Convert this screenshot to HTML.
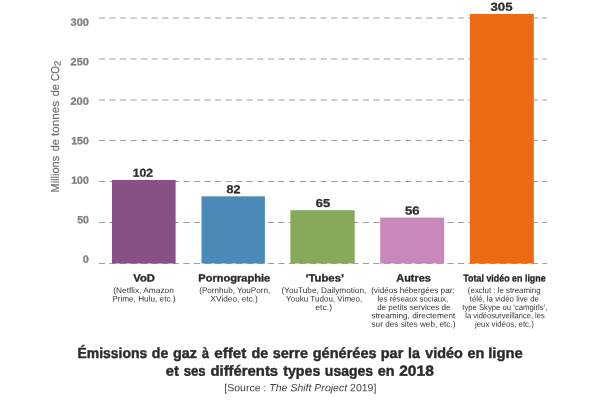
<!DOCTYPE html>
<html lang="fr"><head><meta charset="utf-8"><title>Émissions de gaz à effet de serre générées par la vidéo en ligne</title>
<style>html,body{margin:0;padding:0;background:#fff;overflow:hidden}svg{display:block}text{font-family:"Liberation Sans", sans-serif;text-rendering:geometricPrecision}</style></head><body>
<svg width="600" height="400" viewBox="0 0 600 400">
<rect width="600" height="400" fill="#fff"/>
<g stroke="#9e9e9e" stroke-width="1" stroke-dasharray="6.1 4.46">
<line x1="98.9" x2="547" y1="18.00" y2="18.00"/>
<line x1="98.9" x2="547" y1="59.00" y2="59.00"/>
<line x1="98.9" x2="547" y1="100.00" y2="100.00"/>
<line x1="98.9" x2="547" y1="140.55" y2="140.55"/>
<line x1="98.9" x2="547" y1="181.50" y2="181.50"/>
<line x1="98.9" x2="547" y1="222.50" y2="222.50"/>
<line x1="98.9" x2="547" y1="263.5" y2="263.5"/>
</g>
<rect x="112.00" y="179.96" width="63.60" height="83.54" fill="#885083"/>
<rect x="201.50" y="196.32" width="63.40" height="67.18" fill="#4b8ab7"/>
<rect x="290.40" y="210.23" width="64.30" height="53.27" fill="#86aa5a"/>
<rect x="380.20" y="217.59" width="64.00" height="45.91" fill="#c988bc"/>
<rect x="469.90" y="13.91" width="63.90" height="249.59" fill="#ec6b12"/>
<g transform="translate(59.1,191.75) rotate(-90)">
<text transform="matrix(0.9545 0.0006 0 1 -0.72 0.00)" font-size="11.5" fill="#6c6c6c" stroke="#6c6c6c" stroke-width="0.15">Millions</text>
<text transform="matrix(0.9483 0.0006 0 1 40.51 0.00)" font-size="11.5" fill="#6c6c6c" stroke="#6c6c6c" stroke-width="0.15">de</text>
<text transform="matrix(1.0207 0.0006 0 1 55.67 0.00)" font-size="11.5" fill="#6c6c6c" stroke="#6c6c6c" stroke-width="0.15">tonnes</text>
<text transform="matrix(0.9523 0.0006 0 1 95.50 0.00)" font-size="11.5" fill="#6c6c6c" stroke="#6c6c6c" stroke-width="0.15">de</text>
<text transform="matrix(0.8542 0.0006 0 1 110.87 0.00)" font-size="11.5" fill="#6c6c6c" stroke="#6c6c6c" stroke-width="0.15">CO</text>
<text transform="matrix(1.2014 0.0006 0 1 125.41 1.30)" font-size="8.8" fill="#6c6c6c" stroke="#6c6c6c" stroke-width="0.15">2</text>
</g>
<text transform="matrix(1.0512 0.0006 0 1 82.73 262.75)" font-size="10.4" font-weight="bold" fill="#808080" stroke="#808080" stroke-width="0.3">0</text>
<text transform="matrix(1.0095 0.0006 0 1 77.26 223.23)" font-size="10.4" font-weight="bold" fill="#808080" stroke="#808080" stroke-width="0.3">50</text>
<text transform="matrix(1.0100 0.0006 0 1 71.26 183.71)" font-size="10.4" font-weight="bold" fill="#808080" stroke="#808080" stroke-width="0.3">100</text>
<text transform="matrix(1.0120 0.0006 0 1 71.23 144.19)" font-size="10.4" font-weight="bold" fill="#808080" stroke="#808080" stroke-width="0.3">150</text>
<text transform="matrix(1.0643 0.0006 0 1 70.43 104.67)" font-size="10.4" font-weight="bold" fill="#808080" stroke="#808080" stroke-width="0.3">200</text>
<text transform="matrix(1.0588 0.0006 0 1 70.52 65.15)" font-size="10.4" font-weight="bold" fill="#808080" stroke="#808080" stroke-width="0.3">250</text>
<text transform="matrix(1.0588 0.0006 0 1 70.52 25.63)" font-size="10.4" font-weight="bold" fill="#808080" stroke="#808080" stroke-width="0.3">300</text>
<text transform="matrix(1.0605 0.0006 0 1 132.67 176.81)" font-size="11.5" font-weight="bold" fill="#2e2e2e" stroke="#2e2e2e" stroke-width="0.3">102</text>
<text transform="matrix(1.0892 0.0006 0 1 226.47 193.17)" font-size="11.5" font-weight="bold" fill="#2e2e2e" stroke="#2e2e2e" stroke-width="0.3">82</text>
<text transform="matrix(1.1172 0.0006 0 1 315.74 207.08)" font-size="11.5" font-weight="bold" fill="#2e2e2e" stroke="#2e2e2e" stroke-width="0.3">65</text>
<text transform="matrix(1.1369 0.0006 0 1 404.99 214.44)" font-size="11.5" font-weight="bold" fill="#2e2e2e" stroke="#2e2e2e" stroke-width="0.3">56</text>
<text transform="matrix(1.1490 0.0006 0 1 490.49 10.76)" font-size="11.5" font-weight="bold" fill="#2e2e2e" stroke="#2e2e2e" stroke-width="0.3">305</text>
<text transform="matrix(1.0811 0.0006 0 1 133.31 281.50)" font-size="10.4" font-weight="bold" fill="#262626" stroke="#262626" stroke-width="0.3">VoD</text>
<text transform="matrix(1.0643 0.0006 0 1 198.32 281.50)" font-size="10.4" font-weight="bold" fill="#262626" stroke="#262626" stroke-width="0.3">Pornographie</text>
<text transform="matrix(1.0859 0.0006 0 1 305.40 281.50)" font-size="10.4" font-weight="bold" fill="#262626" stroke="#262626" stroke-width="0.3">‘Tubes’</text>
<text transform="matrix(1.0524 0.0006 0 1 396.29 281.50)" font-size="10.4" font-weight="bold" fill="#262626" stroke="#262626" stroke-width="0.3">Autres</text>
<text transform="matrix(0.9073 0.0006 0 1 463.34 281.50)" font-size="9.8" font-weight="bold" fill="#262626" stroke="#262626" stroke-width="0.3">Total vidéo en ligne</text>
<text transform="matrix(1.0244 0.0006 0 1 113.23 293.05)" font-size="8.15" fill="#363636">(Netflix, Amazon</text>
<text transform="matrix(1.0088 0.0006 0 1 112.20 301.47)" font-size="8.15" fill="#363636">Prime, Hulu, etc.)</text>
<text transform="matrix(1.0022 0.0006 0 1 199.17 293.05)" font-size="8.15" fill="#363636">(Pornhub, YouPorn,</text>
<text transform="matrix(1.0170 0.0006 0 1 210.54 301.47)" font-size="8.15" fill="#363636">XVideo, etc.)</text>
<text transform="matrix(1.0118 0.0006 0 1 281.43 293.05)" font-size="8.15" fill="#363636">(YouTube, Dailymotion,</text>
<text transform="matrix(0.9927 0.0006 0 1 286.09 301.47)" font-size="8.15" fill="#363636">Youku Tudou, Vimeo,</text>
<text transform="matrix(1.0643 0.0006 0 1 315.26 309.89)" font-size="8.15" fill="#363636">etc.)</text>
<text transform="matrix(1.0051 0.0006 0 1 371.14 293.05)" font-size="8.15" fill="#363636">(vidéos hébergées par:</text>
<text transform="matrix(0.9591 0.0006 0 1 377.53 301.47)" font-size="8.15" fill="#363636">les réseaux sociaux,</text>
<text transform="matrix(0.9916 0.0006 0 1 377.14 309.89)" font-size="8.15" fill="#363636">de petits services de</text>
<text transform="matrix(1.0148 0.0006 0 1 371.42 318.31)" font-size="8.15" fill="#363636">streaming, directement</text>
<text transform="matrix(1.0107 0.0006 0 1 371.51 326.73)" font-size="8.15" fill="#363636">sur des sites web, etc.)</text>
<text transform="matrix(0.9698 0.0006 0 1 467.87 293.05)" font-size="8.15" fill="#363636">(exclut : le streaming</text>
<text transform="matrix(0.9689 0.0006 0 1 469.78 301.47)" font-size="8.15" fill="#363636">télé, la vidéo live de</text>
<text transform="matrix(0.9490 0.0006 0 1 462.26 309.89)" font-size="8.15" fill="#363636">type Skype ou ‘camgirls’,</text>
<text transform="matrix(0.9252 0.0006 0 1 465.32 318.31)" font-size="8.15" fill="#363636">la vidéosurveillance, les</text>
<text transform="matrix(0.9635 0.0006 0 1 475.01 326.73)" font-size="8.15" fill="#363636">jeux vidéos, etc.)</text>
<text transform="matrix(0.9538 0.0006 0 1 77.56 357.90)" font-size="14.6" font-weight="bold" fill="#2b2b2b" stroke="#2b2b2b" stroke-width="0.4">Émissions</text>
<text transform="matrix(0.9668 0.0006 0 1 151.76 357.90)" font-size="14.6" font-weight="bold" fill="#2b2b2b" stroke="#2b2b2b" stroke-width="0.4">de</text>
<text transform="matrix(0.9850 0.0006 0 1 173.00 357.90)" font-size="14.6" font-weight="bold" fill="#2b2b2b" stroke="#2b2b2b" stroke-width="0.4">gaz</text>
<text transform="matrix(0.8592 0.0006 0 1 202.06 357.90)" font-size="14.6" font-weight="bold" fill="#2b2b2b" stroke="#2b2b2b" stroke-width="0.4">à</text>
<text transform="matrix(1.0448 0.0006 0 1 214.23 357.90)" font-size="14.6" font-weight="bold" fill="#2b2b2b" stroke="#2b2b2b" stroke-width="0.4">effet</text>
<text transform="matrix(0.9754 0.0006 0 1 251.44 357.90)" font-size="14.6" font-weight="bold" fill="#2b2b2b" stroke="#2b2b2b" stroke-width="0.4">de</text>
<text transform="matrix(0.9905 0.0006 0 1 272.63 357.90)" font-size="14.6" font-weight="bold" fill="#2b2b2b" stroke="#2b2b2b" stroke-width="0.4">serre</text>
<text transform="matrix(0.9957 0.0006 0 1 312.74 357.90)" font-size="14.6" font-weight="bold" fill="#2b2b2b" stroke="#2b2b2b" stroke-width="0.4">générées</text>
<text transform="matrix(0.9942 0.0006 0 1 380.74 357.90)" font-size="14.6" font-weight="bold" fill="#2b2b2b" stroke="#2b2b2b" stroke-width="0.4">par</text>
<text transform="matrix(0.9774 0.0006 0 1 407.94 357.90)" font-size="14.6" font-weight="bold" fill="#2b2b2b" stroke="#2b2b2b" stroke-width="0.4">la</text>
<text transform="matrix(0.9859 0.0006 0 1 425.21 357.90)" font-size="14.6" font-weight="bold" fill="#2b2b2b" stroke="#2b2b2b" stroke-width="0.4">vidéo</text>
<text transform="matrix(0.9886 0.0006 0 1 467.47 357.90)" font-size="14.6" font-weight="bold" fill="#2b2b2b" stroke="#2b2b2b" stroke-width="0.4">en</text>
<text transform="matrix(1.0148 0.0006 0 1 488.17 357.90)" font-size="14.6" font-weight="bold" fill="#2b2b2b" stroke="#2b2b2b" stroke-width="0.4">ligne</text>
<text transform="matrix(1.0097 0.0006 0 1 165.68 375.70)" font-size="14.6" font-weight="bold" fill="#2b2b2b" stroke="#2b2b2b" stroke-width="0.4">et</text>
<text transform="matrix(0.9045 0.0006 0 1 183.66 375.70)" font-size="14.6" font-weight="bold" fill="#2b2b2b" stroke="#2b2b2b" stroke-width="0.4">ses</text>
<text transform="matrix(1.0176 0.0006 0 1 210.44 375.70)" font-size="14.6" font-weight="bold" fill="#2b2b2b" stroke="#2b2b2b" stroke-width="0.4">différents</text>
<text transform="matrix(0.9724 0.0006 0 1 283.22 375.70)" font-size="14.6" font-weight="bold" fill="#2b2b2b" stroke="#2b2b2b" stroke-width="0.4">types</text>
<text transform="matrix(0.9586 0.0006 0 1 324.87 375.70)" font-size="14.6" font-weight="bold" fill="#2b2b2b" stroke="#2b2b2b" stroke-width="0.4">usages</text>
<text transform="matrix(0.9849 0.0006 0 1 377.74 375.70)" font-size="14.6" font-weight="bold" fill="#2b2b2b" stroke="#2b2b2b" stroke-width="0.4">en</text>
<text transform="matrix(1.0641 0.0006 0 1 399.22 375.70)" font-size="14.6" font-weight="bold" fill="#2b2b2b" stroke="#2b2b2b" stroke-width="0.4">2018</text>
<text transform="matrix(1.0126 0.0006 0 1 224.28 391.20)" font-size="10.4" fill="#444">[Source : <tspan font-style="italic">The Shift Project</tspan> 2019]</text>
</svg></body></html>
